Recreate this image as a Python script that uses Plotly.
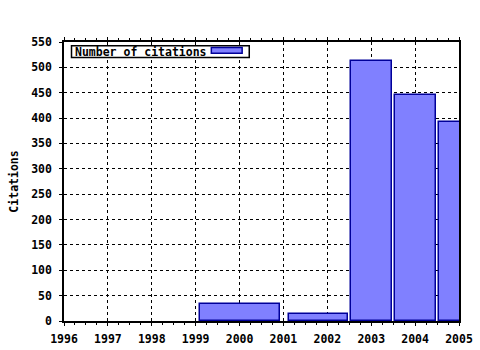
import plotly.graph_objects as go

# Data
bar_centers = [2000.01, 2001.79, 2003.01, 2004.01, 2005.01]
bar_widths = [1.82, 1.34, 0.92, 0.92, 0.92]
citations = [34, 14, 512, 445, 392]
series_name = "Number of citations"
x_ticks = [1996, 1997, 1998, 1999, 2000, 2001, 2002, 2003, 2004, 2005]
y_ticks = list(range(0, 551, 50))

FONT = "DejaVu Sans Mono"
FS = 11.5

fig = go.Figure()
fig.add_trace(go.Bar(
    x=bar_centers, y=citations, width=bar_widths, name=series_name,
    marker=dict(color="#8080ff", line=dict(color="#000099", width=1.5)),
    showlegend=False,
))

axis_common = dict(
    showline=True, linecolor="black", linewidth=1.5,
    showgrid=True, gridcolor="black", gridwidth=1, griddash="dot",
    zeroline=False, automargin=False,
    tickfont=dict(family=FONT, size=FS, color="black", weight="bold"),
    ticks="outside", tickcolor="black", ticklen=3,
)

fig.update_xaxes(
    **axis_common, range=[1996, 2005], tickvals=x_ticks,
    ticktext=[str(t) for t in x_ticks], mirror="ticks", ticklabelstandoff=3,
    minor=dict(dtick=0.25, tick0=1996, ticks="outside", ticklen=2, tickcolor="black", showgrid=False),
)
fig.update_yaxes(
    **axis_common, range=[0, 550], tickvals=y_ticks, mirror=True, ticklabelstandoff=5,
    title=dict(text="Citations", font=dict(family=FONT, size=FS, color="black", weight="bold"), standoff=10),
)

# Legend box (swatch on the right of the text, as in the reference)
fig.add_shape(
    type="rect", xref="paper", yref="paper",
    x0=0.019, x1=0.469, y0=0.944, y1=0.987,
    fillcolor="white", line=dict(color="black", width=1.5),
)
fig.add_shape(
    type="rect", xref="paper", yref="paper",
    x0=0.373, x1=0.451, y0=0.960, y1=0.980,
    fillcolor="#8080ff", line=dict(color="#000099", width=1.5),
)
fig.add_annotation(
    xref="paper", yref="paper", x=0.022, y=0.9655, xanchor="left", yanchor="middle",
    text=series_name, showarrow=False, align="left",
    font=dict(family=FONT, size=FS, color="black", weight="bold"),
)

fig.update_layout(
    width=480, height=350,
    margin=dict(l=63.5, r=21, t=42.3, b=29.4),
    plot_bgcolor="white", paper_bgcolor="white",
    bargap=0,
    font=dict(family=FONT, size=FS, color="black"),
)

fig.write_html("out.html")
